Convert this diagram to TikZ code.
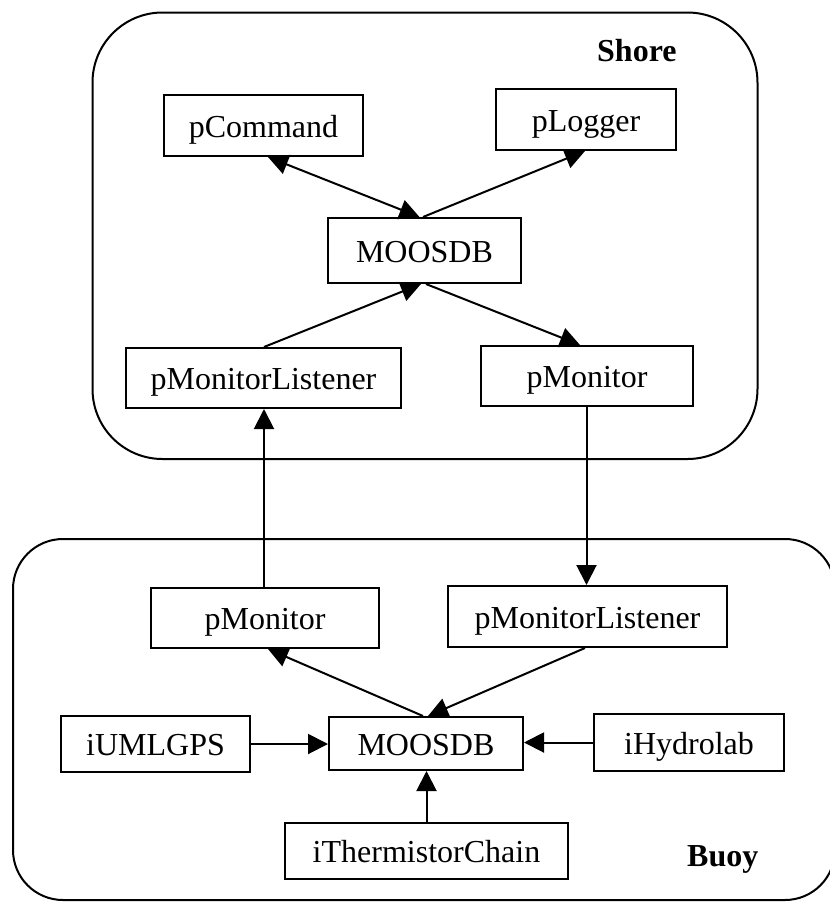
\documentclass[tikz,border=0pt]{standalone}
\usepackage{fontspec}
\setmainfont{Liberation Serif}
\usetikzlibrary{arrows.meta}
\begin{document}
\begin{tikzpicture}[x=1pt,y=-1pt,
  unit/.style={draw, line width=2pt, inner sep=0pt,
    font=\fontsize{32pt}{36pt}\selectfont, text height=23pt, text depth=0pt},
  site/.style={draw, line width=2pt},
  tip/.tip={Triangle[length=20pt,width=20pt]},
  link/.style={line width=2pt, -tip},
  dlink/.style={line width=2pt, tip-tip},
  tag/.style={font=\fontsize{32pt}{36pt}\selectfont\bfseries, inner sep=0pt, anchor=base west}]
\useasboundingbox (0,0) rectangle (830,906);

% the two sites
\draw[site, rounded corners=70pt] (92.5,12.5) rectangle (757.5,459);
\draw[site, rounded corners=50pt] (13,539) rectangle (835,900);
\node[tag] (shorelbl) at (597,61) {Shore};
\node[tag] (buoylbl) at (687,866) {Buoy};

% shore processes
\node[unit, minimum width=199pt, minimum height=61pt] (cmd) at (263.5,125.5) {pCommand};
\node[unit, minimum width=180pt, minimum height=61pt] (log) at (586,119.5) {pLogger};
\node[unit, minimum width=193pt, minimum height=65pt] (sdb) at (424.5,250.5) {MOOSDB};
\node[unit, minimum width=275pt, minimum height=60pt] (slis) at (263.5,378) {pMonitorListener};
\node[unit, minimum width=212pt, minimum height=60pt] (smon) at (587,376) {pMonitor};

% buoy processes
\node[unit, minimum width=228pt, minimum height=60pt] (bmon) at (265,618) {pMonitor};
\node[unit, minimum width=279pt, minimum height=61pt] (blis) at (587.5,616.5) {pMonitorListener};
\node[unit, minimum width=194pt, minimum height=53pt] (bdb) at (426,743.5) {MOOSDB};
\node[unit, minimum width=189pt, minimum height=56pt] (gps) at (155.5,744) {iUMLGPS};
\node[unit, minimum width=190pt, minimum height=57pt] (hyd) at (689,742.5) {iHydrolab};
\node[unit, minimum width=283pt, minimum height=56pt] (thc) at (426.5,851) {iThermistorChain};

% shore connections
\draw[dlink] ([xshift=4.5pt]cmd.south) -- ([xshift=-5pt]sdb.north);
\draw[link] ([xshift=-1.5pt]sdb.north) -- ([xshift=-1pt]log.south);
\draw[link] ([xshift=0.5pt]slis.north) -- ([xshift=-3.5pt]sdb.south);
\draw[link] ([xshift=1.5pt]sdb.south) -- ([xshift=-7pt]smon.north);

% links between the sites
\draw[link] ([xshift=-1pt]bmon.north) -- ([xshift=0.5pt]slis.south);
\draw[link] ([xshift=-0.5pt]smon.south) -- ([xshift=-1pt]blis.north);

% buoy connections
\draw[link] ([xshift=-3pt]bdb.north) -- ([xshift=3pt]bmon.south);
\draw[link] ([xshift=-2.5pt]blis.south) -- ([xshift=2pt]bdb.north);
\draw[link] (gps.east) -- (gps.east -| bdb.west);
\draw[link] (hyd.west) -- (hyd.west -| bdb.east);
\draw[link] (thc.north) -- (thc.north |- bdb.south);
\end{tikzpicture}
\end{document}
